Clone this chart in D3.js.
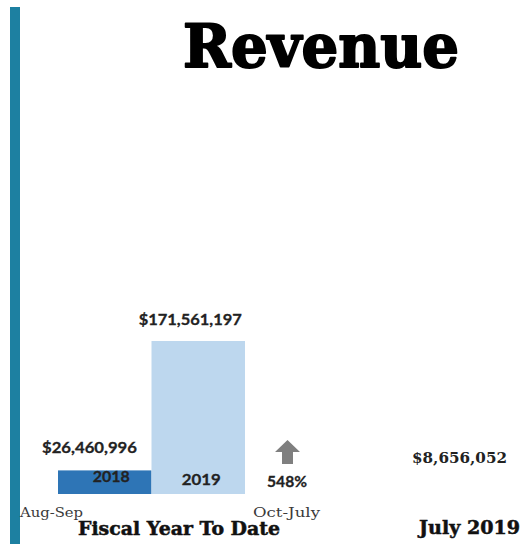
<!DOCTYPE html>
<html><head><meta charset="utf-8">
<script src="https://cdn.jsdelivr.net/npm/d3@7"></script>
<style>html,body{margin:0;padding:0;background:#fff;}svg{display:block;}</style>
</head><body>
<svg id="c" width="525" height="544"></svg>
<script>
const title = "Revenue";
const years = ["2018", "2019"];
const values = [26460996, 171561197];
const barColors = ["#2e75b6", "#bdd7ee"];
const changeLabel = "548%";
const periodLabels = ["Aug-Sep", "Oct-July"];
const sectionLabels = ["Fiscal Year To Date", "July 2019"];
const julyValue = 8656052;

const svg = d3.select("#c");
const fmt = v => "$" + d3.format(",")(v);

// accent bar
svg.append("rect").attr("x", 10).attr("y", 7).attr("width", 10).attr("height", 537).attr("fill", "#1d80a1");

svg.append("text").text(title)
  .attr("x", 183).attr("y", 67)
  .attr("textLength", 276).attr("lengthAdjust", "spacingAndGlyphs")
  .attr("font-family", "DejaVu Serif").attr("font-weight", "bold").attr("font-size", 60)
  .attr("fill", "#000").attr("stroke", "#000").attr("stroke-width", 2).attr("stroke-linejoin", "round");

const x = d3.scaleBand().domain(years).range([58, 245]).padding(0);
const y = d3.scaleLinear().domain([0, values[1]]).range([494, 341]);

svg.selectAll("rect.bar").data(years).join("rect").attr("class", "bar")
  .attr("x", d => x(d)).attr("width", x.bandwidth())
  .attr("y", (d, i) => y(values[i])).attr("height", (d, i) => y(0) - y(values[i]))
  .attr("fill", (d, i) => barColors[i]);

const sans = "Lato, 'Open Sans', sans-serif";
function lab(t, cx, cy, w) {
  svg.append("text").text(t).attr("x", cx).attr("y", cy)
    .attr("text-anchor", "middle").attr("font-family", sans).attr("font-weight", "bold").attr("font-size", 16)
    .attr("textLength", w).attr("lengthAdjust", "spacingAndGlyphs")
    .attr("fill", "#222").attr("stroke", "#222").attr("stroke-width", 0.3);
}
// value labels
lab(fmt(values[0]), 89.5, 453, 95);
lab(fmt(values[1]), x(years[1]) + x.bandwidth() / 2 - 8, 325, 103);
// year labels inside bars
lab(years[0], x(years[0]) + x.bandwidth() / 2 + 6.5, 482, 37);
lab(years[1], x(years[1]) + x.bandwidth() / 2 + 3, 485, 39);

// arrow
const ax = 287.5, ay = 440;
svg.append("path")
  .attr("d", `M${ax},${ay} L${ax + 12.5},${ay + 12} L${ax + 5.5},${ay + 12} L${ax + 5.5},${ay + 24} L${ax - 5.5},${ay + 24} L${ax - 5.5},${ay + 12} L${ax - 12.5},${ay + 12} Z`)
  .attr("fill", "#7f7f7f");
lab(changeLabel, 287, 487, 40);

// period labels
const serif = "'DejaVu Serif', serif";
svg.append("text").text(periodLabels[0]).attr("x", 20).attr("y", 517)
  .attr("textLength", 63).attr("lengthAdjust", "spacingAndGlyphs")
  .attr("font-family", serif).attr("font-size", 12).attr("fill", "#3a3a3a");
svg.append("text").text(periodLabels[1]).attr("x", 253).attr("y", 517)
  .attr("textLength", 67).attr("lengthAdjust", "spacingAndGlyphs")
  .attr("font-family", serif).attr("font-size", 12).attr("fill", "#3a3a3a");

// section labels
svg.append("text").text(sectionLabels[0]).attr("x", 78).attr("y", 535)
  .attr("textLength", 202).attr("lengthAdjust", "spacingAndGlyphs")
  .attr("font-family", serif).attr("font-weight", "bold").attr("font-size", 18)
  .attr("fill", "#111").attr("stroke", "#111").attr("stroke-width", 0.5);
svg.append("text").text(sectionLabels[1]).attr("x", 419).attr("y", 534)
  .attr("textLength", 101).attr("lengthAdjust", "spacingAndGlyphs")
  .attr("font-family", serif).attr("font-weight", "bold").attr("font-size", 18)
  .attr("fill", "#111").attr("stroke", "#111").attr("stroke-width", 0.5);

svg.append("text").text(fmt(julyValue)).attr("x", 412).attr("y", 463)
  .attr("textLength", 95).attr("lengthAdjust", "spacingAndGlyphs")
  .attr("font-family", serif).attr("font-weight", "bold").attr("font-size", 15).attr("fill", "#222");
</script>
</body></html>
